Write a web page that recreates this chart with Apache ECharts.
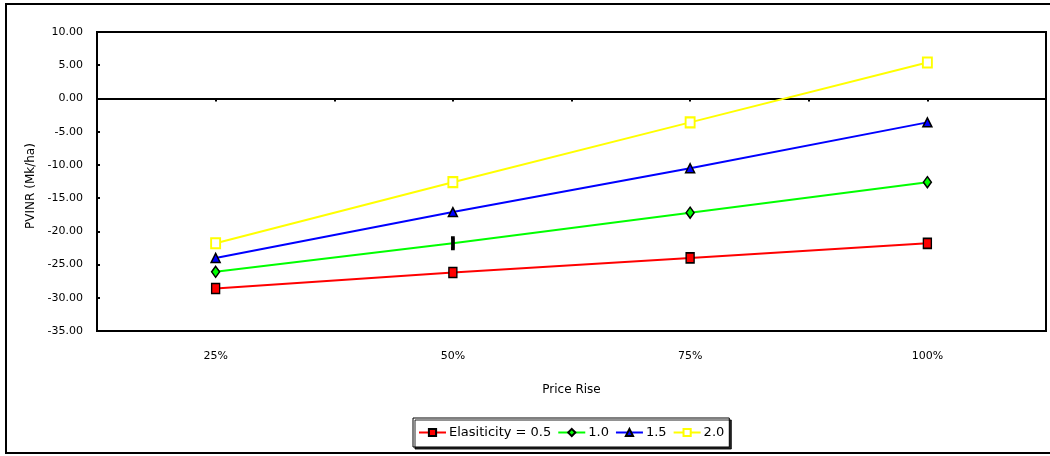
<!DOCTYPE html>
<html>
<head>
<meta charset="utf-8">
<script src="https://cdn.jsdelivr.net/npm/echarts@6/dist/echarts.min.js"></script>
<style>
  html, body { margin: 0; padding: 0; background: #fff; }
  #chart { width: 1050px; height: 456px; }
</style>
</head>
<body>
<div id="chart"></div>
<script>
// Price rise scenarios and PVINR (Mk/ha) for each elasticity
const categories = ['25%', '50%', '75%', '100%'];
const elasticity05 = [-28.6, -26.2, -24.0, -21.8];
const elasticity10 = [-26.1, -21.8, -17.2, -12.6];
const elasticity15 = [-24.0, -17.1, -10.5, -3.6];
const elasticity20 = [-21.8, -12.6, -3.6, 5.4];
const seriesNames = ['Elasiticity = 0.5', '1.0', '1.5', '2.0'];
const yTicks = { min: -35, max: 10, step: 5 };

const FONT = 'DejaVu Sans';

const chart = echarts.init(document.getElementById('chart'), null, { renderer: 'canvas' });

// the 1.0 series shows a thin dark mark at the 50% point
const greenData = elasticity10.map((v, i) => i === 1
  ? { value: v, symbol: 'rect', symbolSize: [3, 11], itemStyle: { color: '#000', borderColor: '#000' } }
  : v);

const option = {
  animation: false,
  backgroundColor: '#fff',
  textStyle: { fontFamily: FONT },
  graphic: [{
    type: 'rect',
    shape: { x: 6, y: 4, width: 1046, height: 449 },
    style: { fill: 'none', stroke: '#000', lineWidth: 2 },
    silent: true,
    z: -1
  }],
  grid: {
    left: 97, right: 4, top: 32, bottom: 125,
    show: true, borderColor: '#000', borderWidth: 2, backgroundColor: 'transparent'
  },
  legend: {
    left: 413, top: 418,
    padding: [8, 5],
    itemWidth: 27, itemHeight: 9, itemGap: 6,
    backgroundColor: '#fff',
    borderColor: '#000', borderWidth: 1,
    shadowColor: 'rgba(0,0,0,0.85)', shadowBlur: 0, shadowOffsetX: 2, shadowOffsetY: 2,
    textStyle: { fontFamily: FONT, fontSize: 13, color: '#000', padding: [0, 0, 0, -2] },
    data: seriesNames
  },
  xAxis: [{
    type: 'category',
    data: categories,
    position: 'bottom',
    boundaryGap: true,
    axisLine: { show: false, onZero: false },
    axisTick: { show: false },
    axisLabel: { fontFamily: FONT, fontSize: 11, color: '#000', margin: 20 },
    name: 'Price Rise',
    nameLocation: 'middle',
    nameGap: 53,
    nameTextStyle: { fontFamily: FONT, fontSize: 12, color: '#000' },
    splitLine: { show: false }
  }, {
    // horizontal line crossing at zero with half-category ticks
    type: 'value',
    min: 0, max: 4, interval: 0.5,
    position: 'top',
    axisLine: { show: true, onZero: true, lineStyle: { color: '#000', width: 2 } },
    axisTick: { show: true, inside: true, length: 3, lineStyle: { color: '#000', width: 2 } },
    axisLabel: { show: false },
    splitLine: { show: false }
  }],
  yAxis: {
    type: 'value',
    min: yTicks.min, max: yTicks.max, interval: yTicks.step,
    axisLine: { show: true, lineStyle: { color: '#000', width: 2 } },
    axisTick: { show: true, inside: true, length: 3, lineStyle: { color: '#000', width: 2 } },
    axisLabel: {
      fontFamily: FONT, fontSize: 11, color: '#000', margin: 14,
      formatter: v => v.toFixed(2)
    },
    splitLine: { show: false },
    name: 'PVINR (Mk/ha)',
    nameLocation: 'middle',
    nameGap: 58,
    nameTextStyle: { fontFamily: FONT, fontSize: 12, color: '#000', padding: [0, 9, 0, 0] }
  },
  series: [{
    name: seriesNames[0], type: 'line', data: elasticity05,
    symbol: 'rect', symbolSize: [8, 10], showAllSymbol: true,
    lineStyle: { color: '#ff0000', width: 2 },
    itemStyle: { color: '#ff0000', borderColor: '#000', borderWidth: 1.5 }
  }, {
    name: seriesNames[1], type: 'line', data: greenData,
    symbol: 'diamond', symbolSize: [8, 11], showAllSymbol: true,
    lineStyle: { color: '#00ff00', width: 2 },
    itemStyle: { color: '#00ff00', borderColor: '#000', borderWidth: 1.5 }
  }, {
    name: seriesNames[2], type: 'line', data: elasticity15,
    symbol: 'triangle', symbolSize: [9, 9], showAllSymbol: true,
    lineStyle: { color: '#0000ff', width: 2 },
    itemStyle: { color: '#0000ff', borderColor: '#000', borderWidth: 1.5 }
  }, {
    name: seriesNames[3], type: 'line', data: elasticity20,
    symbol: 'rect', symbolSize: [9, 10], showAllSymbol: true,
    lineStyle: { color: '#ffff00', width: 2 },
    itemStyle: { color: '#ffffff', borderColor: '#ffff00', borderWidth: 2 }
  }]
};

chart.setOption(option);
</script>
</body>
</html>
